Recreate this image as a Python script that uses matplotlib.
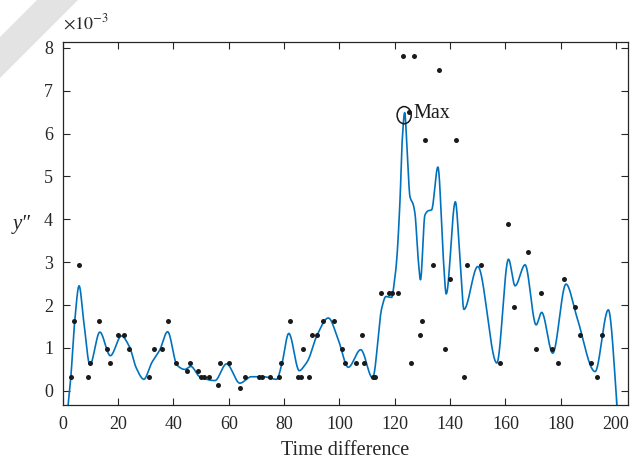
import numpy as np
import matplotlib
matplotlib.use("Agg")
import matplotlib.pyplot as plt
from matplotlib.patches import Ellipse, Polygon

plt.rcParams['font.family'] = ['Liberation Serif', 'DejaVu Serif']
plt.rcParams['mathtext.fontset'] = 'stix'

# Observed second-derivative samples (units of 1e-3)
dot_x = [3, 4, 6, 9, 10, 13, 16, 17, 20, 22, 24, 31, 33, 36, 38, 41, 45, 46, 49, 50,
         51, 53, 56, 57, 60, 64, 66, 71, 72, 75, 78, 79, 82, 85, 86, 87, 89, 90, 92, 94,
         98, 101, 102, 106, 108, 109, 112, 113, 115, 118, 119, 121, 123, 125, 126, 127,
         129, 130, 131, 134, 136, 138, 140, 142, 145, 146, 151, 158, 161, 163, 168, 171,
         173, 177, 179, 181, 185, 187, 191, 193, 195]
dot_y = [0.33, 1.63, 2.93, 0.33, 0.65, 1.63, 0.98, 0.65, 1.30, 1.30, 0.98, 0.33, 0.98,
         0.98, 1.63, 0.65, 0.47, 0.65, 0.47, 0.33, 0.33, 0.33, 0.14, 0.65, 0.65, 0.06,
         0.33, 0.33, 0.33, 0.33, 0.33, 0.65, 1.63, 0.33, 0.33, 0.98, 0.33, 1.30, 1.30,
         1.63, 1.63, 0.98, 0.65, 0.65, 1.30, 0.65, 0.33, 0.33, 2.28, 2.28, 2.28, 2.28,
         7.80, 6.50, 0.65, 7.80, 1.30, 1.63, 5.85, 2.93, 7.48, 0.98, 2.60, 5.85, 0.33,
         2.93, 2.93, 0.65, 3.90, 1.95, 3.25, 0.98, 2.28, 0.98, 0.65, 2.60, 1.95, 1.30,
         0.65, 0.33, 1.30]

# Smoothed fit: knots of the fitted curve (units of 1e-3)
fit_x = [1.0, 2.9, 4.3, 5.9, 7.6, 9.8, 13.4, 17.2, 21.2, 24.1, 26.6, 29.3, 32.1, 35.1,
         37.9, 41.3, 44.1, 46.3, 49.5, 55.0, 59.2, 64.0, 68.2, 72.5, 77.3, 79.1, 81.7,
         85.5, 87.5, 88.7, 91.8, 96.0, 99.6, 103.2, 107.7, 112.0, 115.3, 116.8, 118.9,
         119.8, 120.7, 121.9, 122.7, 123.6, 124.3, 125.5, 126.7, 127.3, 128.5, 129.3,
         130.9, 132.1, 133.3, 135.6, 137.6, 138.6, 141.9, 143.6, 145.0, 150.0, 156.9,
         161.1, 163.5, 167.1, 171.1, 173.1, 177.1, 181.9, 185.8, 192.4, 197.2, 200.2,
         201.0]
fit_y = [-0.95, 0.31, 1.61, 2.45, 1.61, 0.61, 1.37, 0.82, 1.28, 1.03, 0.53, 0.27, 0.65,
         0.96, 1.38, 0.60, 0.50, 0.57, 0.33, 0.24, 0.63, 0.18, 0.33, 0.33, 0.27, 0.60,
         1.34, 0.47, 0.60, 0.72, 1.28, 1.70, 1.19, 0.55, 0.96, 0.30, 1.93, 2.20, 2.18,
         2.51, 3.05, 4.45, 5.85, 6.49, 5.85, 4.53, 4.34, 4.14, 3.05, 2.59, 4.10, 4.20,
         4.22, 5.22, 3.05, 2.26, 4.41, 3.05, 1.90, 2.90, 0.65, 3.07, 2.45, 2.94, 1.54,
         1.83, 0.88, 2.49, 1.73, 0.45, 1.89, -0.20, -1.00]

max_x, max_y = 123.4, 6.43
x_ticks = [0, 20, 40, 60, 80, 100, 120, 140, 160, 180, 200]
y_ticks = [0, 1, 2, 3, 4, 5, 6, 7, 8]


def pchip(xk, yk, xs):
    xk = np.asarray(xk, float)
    yk = np.asarray(yk, float)
    h = np.diff(xk)
    d = np.diff(yk) / h
    m = np.zeros_like(yk)
    for k in range(1, len(xk) - 1):
        if d[k - 1] * d[k] > 0:
            w1 = 2 * h[k] + h[k - 1]
            w2 = h[k] + 2 * h[k - 1]
            m[k] = (w1 + w2) / (w1 / d[k - 1] + w2 / d[k])
    m[0], m[-1] = d[0], d[-1]
    idx = np.clip(np.searchsorted(xk, xs) - 1, 0, len(xk) - 2)
    t = (xs - xk[idx]) / h[idx]
    h00 = 2 * t**3 - 3 * t**2 + 1
    h10 = t**3 - 2 * t**2 + t
    h01 = -2 * t**3 + 3 * t**2
    h11 = t**3 - t**2
    return (h00 * yk[idx] + h10 * h[idx] * m[idx]
            + h01 * yk[idx + 1] + h11 * h[idx] * m[idx + 1])


fig = plt.figure(figsize=(6.34, 4.65), dpi=100)

# light diagonal band in the upper-left corner
band = Polygon([[37 / 634, 1], [78 / 634, 1], [0, 1 - 78 / 465], [0, 1 - 37 / 465]],
               closed=True, transform=fig.transFigure, facecolor='#e3e3e3',
               edgecolor='none', zorder=0)
fig.patches.append(band)

ax = fig.add_axes([0.099, 0.129, 0.8915, 0.781])

xs = np.linspace(fit_x[0], fit_x[-1], 2000)
ax.plot(xs, pchip(fit_x, fit_y, xs), color='#0072BD', lw=1.2, zorder=2)
ax.plot(dot_x, dot_y, 'o', color='#1a1a1a', ms=3.6, mec='none', zorder=3)

ax.add_patch(Ellipse((max_x, max_y), 5.1, 0.40, fill=False, ec='#1a1a1a', lw=1.1,
                     zorder=4))
ax.text(126.9, 6.47, 'Max', fontsize=14.5, ha='left', va='center', color='#1a1a1a')

ax.set_xlim(0, 204.3)
ax.set_ylim(-0.33, 8.14)
ax.set_xticks(x_ticks)
ax.set_yticks(y_ticks)
ax.tick_params(direction='in', length=5, width=0.8, top=True, right=True,
               labelsize=13, colors='#262626')
ax.tick_params(axis='x', pad=8)
ax.tick_params(axis='y', pad=7)
for s in ax.spines.values():
    s.set_linewidth(0.9)
    s.set_color('#262626')

ax.set_xlabel('Time difference', fontsize=14.5, color='#262626', labelpad=6)
fig.text(22 / 634, 1 - 224 / 465, 'y\u2033', fontsize=15, style='italic',
         ha='center', va='center', color='#262626')
fig.text(63 / 634, 1 - 28.5 / 465, r'$\times 10^{-3}$', fontsize=13, ha='left',
         va='baseline', color='#262626')

fig.savefig('out.png', dpi=100)
